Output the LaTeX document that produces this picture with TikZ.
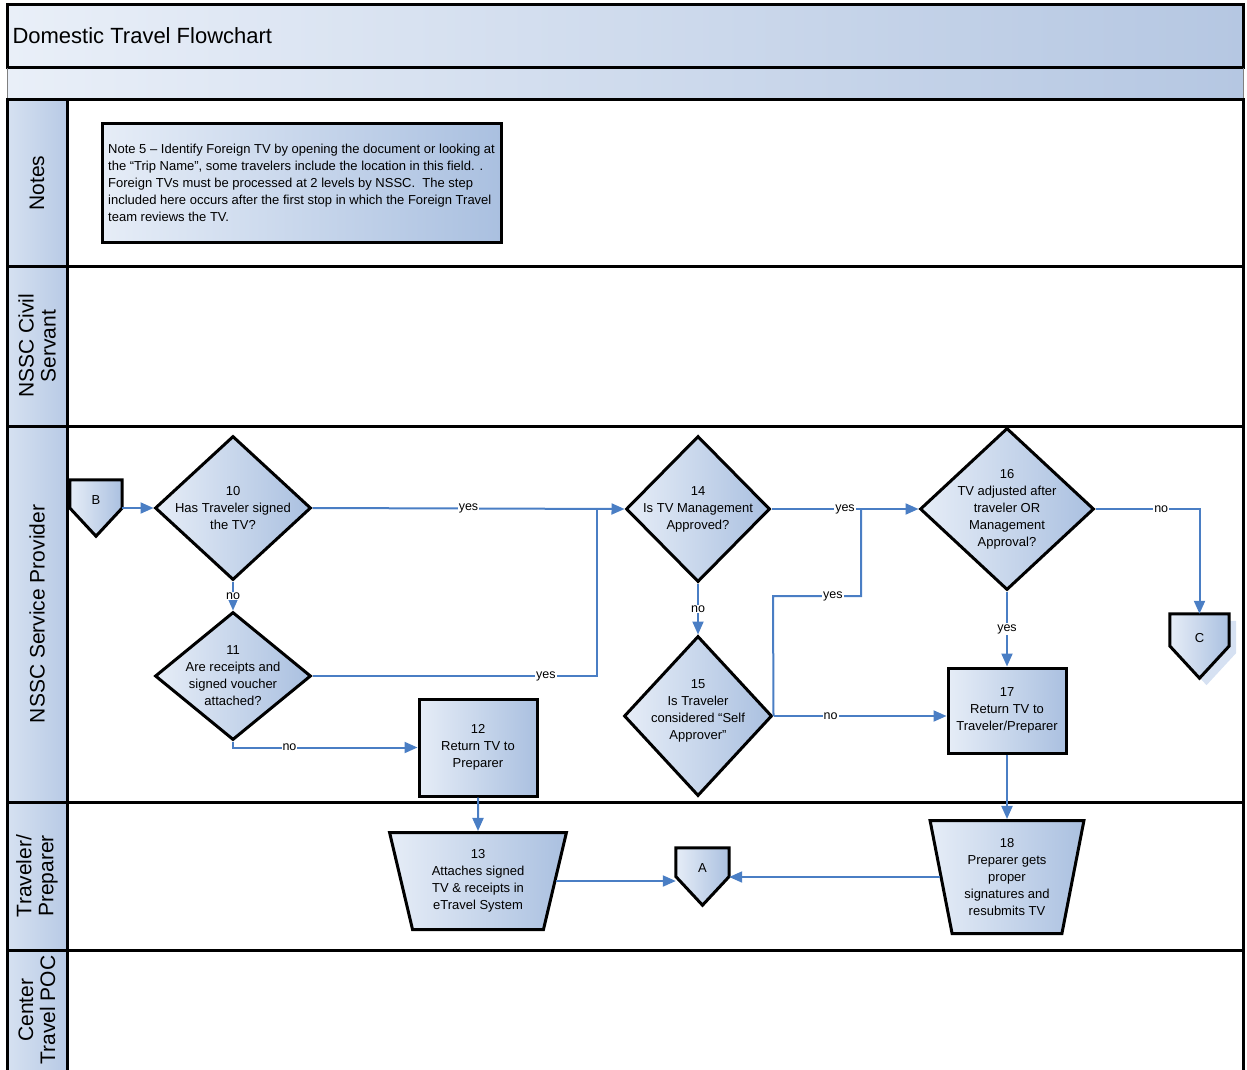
\documentclass[tikz,border=0pt]{standalone}
\usepackage{fontspec}
\setmainfont{Liberation Sans}
\usetikzlibrary{shapes.geometric}
\usetikzlibrary{arrows.meta,calc}
\definecolor{lightfill}{RGB}{230,237,247}
\definecolor{darkfill}{RGB}{170,192,224}
\definecolor{bandlight}{RGB}{233,239,248}
\definecolor{banddark}{RGB}{181,199,226}
\definecolor{lanelight}{RGB}{214,225,241}
\definecolor{lanedark}{RGB}{184,202,229}
\definecolor{flowblue}{RGB}{74,126,196}
\definecolor{shadowblue}{RGB}{214,225,242}
\tikzstyle{every node}=[font=\fontsize{13}{17}\selectfont]
\tikzstyle{shade box}=[left color=lightfill,right color=darkfill,draw=black,line width=3pt]
\tikzstyle{decision}=[diamond,shade box,inner sep=0pt]
\tikzstyle{process}=[rectangle,shade box,align=center,inner sep=2pt]
\tikzstyle{manual}=[trapezium,shape border rotate=180,trapezium stretches=true,shade box,align=center,inner sep=0pt]
\tikzstyle{offpage}=[rectangle,inner sep=0pt]
\tikzstyle{boxtext}=[align=center]
\tikzstyle{flow}=[draw=flowblue,line width=2pt,-{Triangle[length=13pt,width=11pt]}]
\tikzstyle{link}=[draw=flowblue,line width=2pt]
\tikzstyle{answer}=[fill=white,inner sep=1pt,font=\fontsize{12.5}{14}\selectfont]
\tikzstyle{lanetext}=[rotate=90,align=center,font=\fontsize{21}{22}\selectfont]

\begin{document}
\begin{tikzpicture}[x=1pt,y=-1pt]
\useasboundingbox (0,0) rectangle (1247,1070);
% header bands
\shade[left color=bandlight,right color=banddark] (7,5) rectangle (1243,100);
\draw[line width=3pt] (7,5) rectangle (1243,68);
\draw[gray,line width=1pt] (7,68) -- (7,100) (1243,68) -- (1243,100);
\node[anchor=west,font=\fontsize{22}{24}\selectfont] (title) at (9,36) {Domestic Travel Flowchart};
% lanes
\shade[left color=lanelight,right color=lanedark] (7,100) rectangle (67,1070);
\draw[line width=3pt] (7,1070) -- (7,100) -- (1243,100) -- (1243,1070);
\draw[line width=3pt] (67,100) -- (67,1070);
\foreach \y in {266,426,802,950}
  \draw[line width=3pt] (7,\y) -- (1243,\y);
\node[lanetext] (lnotes) at (37,183) {Notes};
\node[lanetext] (lcivil) at (37,346) {NSSC Civil\\Servant};
\node[lanetext] (lprov) at (37,614) {NSSC Service Provider};
\node[lanetext] (lprep) at (37,876) {Traveler/\\Preparer};
\node[lanetext] (lpoc) at (37,1010) {Center\\Travel POC};
% note
\node[rectangle,shade box,minimum width=399pt,minimum height=118pt,align=left,
  font=\fontsize{13}{17}\selectfont] (note) at (301.5,183)
  {Note 5 -- Identify Foreign TV by opening the document or looking at\\
   the “Trip Name”, some travelers include the location in this field. .\\
   Foreign TVs must be processed at 2 levels by NSSC.\ \ The step\\
   included here occurs after the first stop in which the Foreign Travel\\
   team reviews the TV.};
% off page connectors
\node[offpage,minimum width=52pt,minimum height=56pt] (b) at (96,508) {};
\node[offpage,minimum width=53pt,minimum height=57pt] (a) at (702.5,876.5) {};
\node[offpage,minimum width=59pt,minimum height=64pt] (c) at (1199.5,646) {};
\fill[shadowblue] ([shift={(7,7)}]c.north west) -- ([shift={(7,7)}]c.north east)
  -- ([shift={(7,7)}]c.east) -- ([shift={(7,7)}]c.south) -- ([shift={(7,7)}]c.west) -- cycle;
\foreach \n in {a,b,c}
  \path[shade box] (\n.north west) -- (\n.north east) -- (\n.east) -- (\n.south) -- (\n.west) -- cycle;
\node (btext) at ([yshift=8pt]b.center) {B};
\node (atext) at ([yshift=8pt]a.center) {A};
\node (ctext) at ([yshift=8pt]c.center) {C};
% steps
\node[decision,minimum width=156pt,minimum height=144pt,
  label={[boxtext]center:10\\Has Traveler signed\\the TV?}] (d10) at (233,508) {};
\node[decision,minimum width=156pt,minimum height=128pt,
  label={[boxtext]center:11\\Are receipts and\\signed voucher\\attached?}] (d11) at (233,676) {};
\node[process,minimum width=118pt,minimum height=97pt] (b12) at (478,747.5) {12\\Return TV to\\Preparer};
\node[manual,trapezium left angle=75.5,trapezium right angle=75.5,
  minimum width=177pt,minimum height=97pt] (t13) at (478,881) {13\\Attaches signed\\TV \& receipts in\\eTravel System};
\node[decision,minimum width=144pt,minimum height=146pt,
  label={[boxtext]center:14\\Is TV Management\\Approved?}] (d14) at (698,509) {};
\node[decision,minimum width=148pt,minimum height=160pt,
  label={[boxtext,yshift=5pt]center:15\\Is Traveler\\considered “Self\\Approver”}] (d15) at (698,716) {};
\node[decision,minimum width=174pt,minimum height=162pt,
  label={[boxtext]center:16\\TV adjusted after\\traveler OR\\Management\\Approval?}] (d16) at (1007,509) {};
\node[process,minimum width=118pt,minimum height=85pt] (b17) at (1007,710.5) {17\\Return TV to\\Traveler/Preparer};
\node[manual,trapezium left angle=77.5,trapezium right angle=77.5,
  minimum width=154pt,minimum height=113pt] (t18) at (1007,877) {18\\Preparer gets\\proper\\signatures and\\resubmits TV};
\coordinate (j1) at (597,509);
\coordinate (j2) at (861,509);
\coordinate (j3) at (773,596);
% connectors
\draw[flow] (b.east) -- (d10.west);
\draw[flow] (d10.east) -- node[answer,pos=0.5] {yes} (d14.west);
\draw[flow] (d10.south) -- node[answer] {no} (d11.north);
\draw[link] (d11.east) -| node[answer,pos=0.41] {yes} (j1);
\draw[flow] (d11.south) |- node[answer,pos=0.653] {no} (b12.west);
\draw[flow] (b12.south) -- (t13.north);
\draw[flow] (t13.east) -- (t13.east -| a.west);
\draw[flow] (t18.west) -- (t18.west -| a.east);
\draw[flow] (d14.east) -- node[answer] {yes} (d16.west);
\draw[flow] (d14.south) -- node[answer] {no} (d15.north);
\draw[link] (d15.east) -- (j3) -| node[answer,pos=0.34] {yes} (j2);
\draw[flow] (d15.east) -- node[answer,pos=0.33] {no} (d15.east -| b17.west);
\draw[flow] (d16.east) -| node[answer,pos=0.316] {no} (c.north);
\draw[flow] (d16.south) -- node[answer] {yes} (b17.north);
\draw[flow] (b17.south) -- (t18.north);
\end{tikzpicture}
\end{document}
